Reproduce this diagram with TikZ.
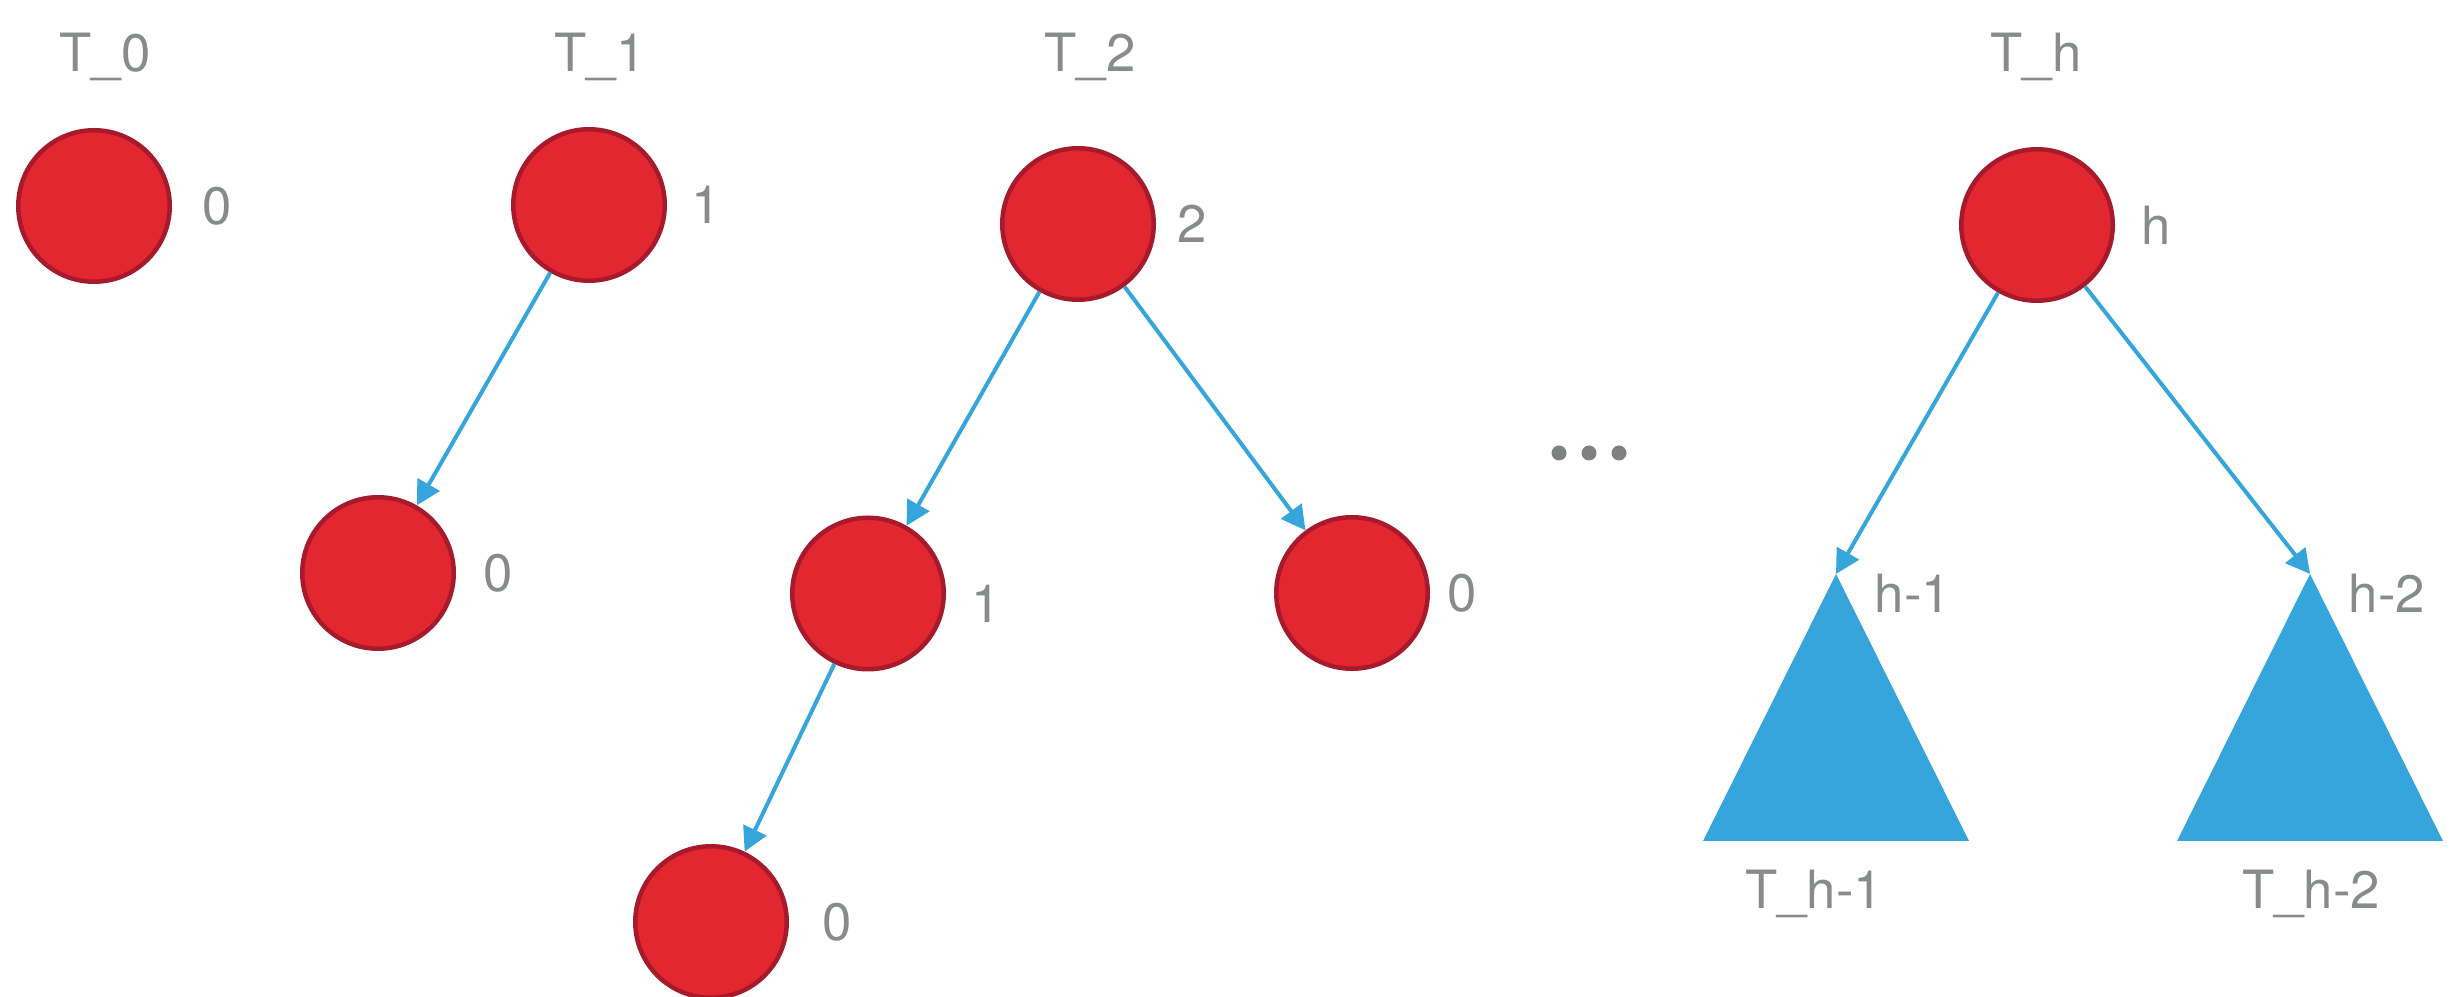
\documentclass[tikz,border=0pt]{standalone}
\usepackage{fontspec}
\setmainfont{TeX Gyre Heros}
\usetikzlibrary{arrows.meta,positioning,calc}

\definecolor{nodered}{HTML}{E22731}
\definecolor{nodeedge}{HTML}{A71A2B}
\definecolor{edgeblue}{HTML}{35A5DB}
\definecolor{labelgray}{HTML}{878B8B}
\definecolor{dotgray}{HTML}{7F8080}

\begin{document}
\begin{tikzpicture}[
    vertex/.style={circle, draw=nodeedge, fill=nodered, line width=0.045cm, minimum size=1.515cm, inner sep=0pt},
    edge/.style={-{Triangle[length=0.24cm, width=0.25cm]}, draw=edgeblue, line width=0.04cm},
    subtree/.style={fill=edgeblue},
    num/.style={inner sep=0pt, text=labelgray, font=\fontsize{15}{18}\selectfont},
    title/.style={num, anchor=base},
    dot/.style={circle, fill=dotgray, minimum size=0.15cm, inner sep=0pt}
]
\useasboundingbox (0,0) rectangle (24.57,-9.97);

% T_0
\node[title] (t0title) at (1.05,-0.72) {T\_0};
\node[vertex] (t0) at (0.94,-2.06) {};
\node[num, right=0.30cm of t0] {0};

% T_1
\node[title] (t1title) at (6.00,-0.72) {T\_1};
\node[vertex] (t1) at (5.89,-2.05) {};
\node[num, right=0.24cm of t1] {1};
\node[vertex] (t1a) at (3.78,-5.73) {};
\node[num, right=0.27cm of t1a] {0};

% T_2
\node[title] (t2title) at (10.90,-0.72) {T\_2};
\node[vertex] (t2) at (10.78,-2.24) {};
\node[num, right=0.21cm of t2] {2};
\node[vertex] (t2a) at (8.68,-5.935) {};
\node[num, right=0.25cm of t2a, yshift=-0.1cm] {1};
\node[vertex] (t2b) at (13.52,-5.93) {};
\node[num, right=0.17cm of t2b] {0};
\node[vertex] (t2aa) at (7.11,-9.22) {};
\node[num, right=0.33cm of t2aa] {0};

% dots
\foreach \i/\x in {1/15.59, 2/15.89, 3/16.19}
    \node[dot] (dot\i) at (\x,-4.53) {};

% T_h
\node[title] (thtitle) at (20.36,-0.72) {T\_h};
\node[vertex] (th) at (20.37,-2.25) {};
\node[num, right=0.26cm of th] {h};

% Subtrees
\coordinate (lapex) at (18.36,-5.74);
\coordinate (rapex) at (23.10,-5.74);
\fill[subtree] (lapex) -- ++(-1.33,-2.67) -- ++(2.66,0) -- cycle;
\fill[subtree] (rapex) -- ++(-1.33,-2.67) -- ++(2.66,0) -- cycle;
\node[num, anchor=west] (hl) at ($(lapex)+(0.38,-0.19)$) {h-1};
\node[num, anchor=west] (hr) at ($(rapex)+(0.38,-0.19)$) {h-2};
\node[title] (tl) at (18.14,-9.09) {T\_h-1};
\node[title] (tr) at (23.11,-9.08) {T\_h-2};

% Arrows
\draw[edge] (t1) -- (t1a);
\draw[edge] (t2) -- (t2a);
\draw[edge] (t2) -- (t2b);
\draw[edge] (t2a) -- (t2aa);
\draw[edge] (th) -- (lapex);
\draw[edge] (th) -- (rapex);

\end{tikzpicture}
\end{document}
